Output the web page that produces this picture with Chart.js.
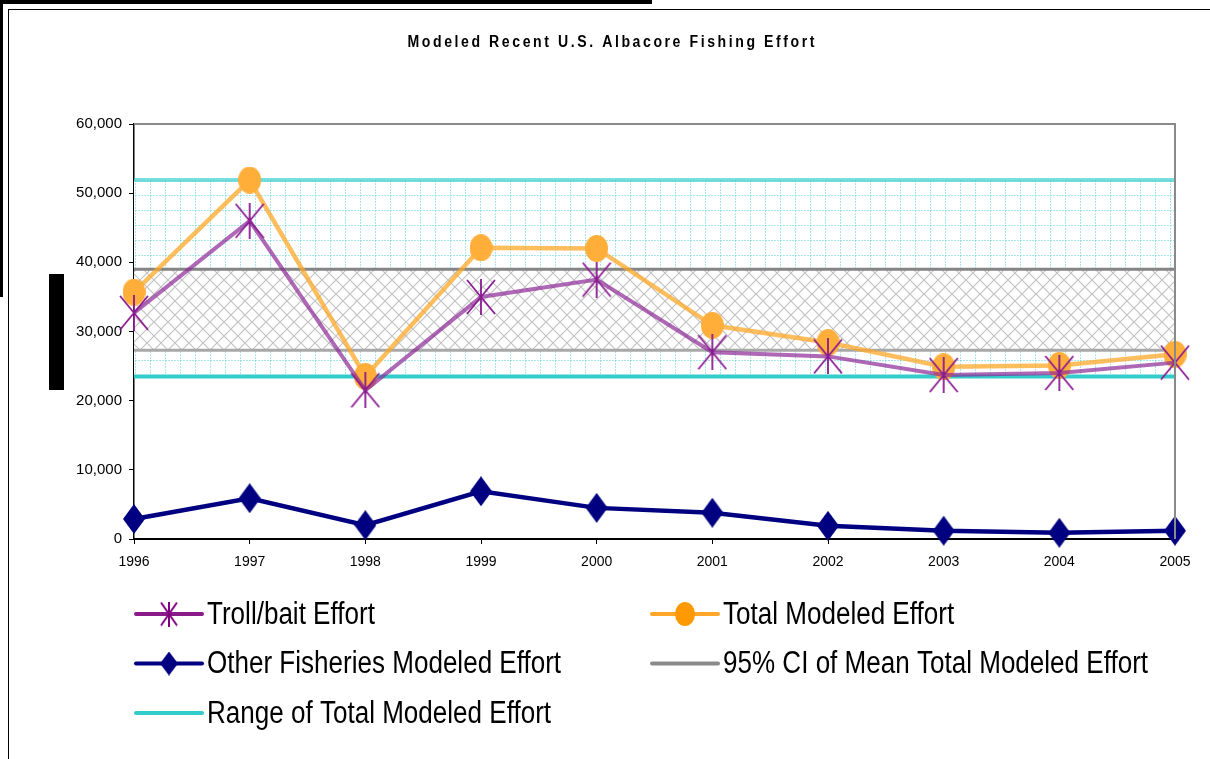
<!DOCTYPE html>
<html>
<head>
<meta charset="utf-8">
<script src="https://cdn.jsdelivr.net/npm/chart.js@4.4.1/dist/chart.umd.min.js"></script>
<style>
  html, body { margin: 0; padding: 0; background: #fff; }
  #wrap { position: relative; width: 1210px; height: 759px; overflow: hidden; background: #fff; }
  #c { position: absolute; left: 0; top: 0; }
  .deco { position: absolute; background: #000; }
</style>
</head>
<body>
<div id="wrap">
  <canvas id="c" width="1210" height="759"></canvas>
  <div class="deco" style="left:0;top:0;width:652px;height:4px;"></div>
  <div class="deco" style="left:0;top:0;width:3px;height:297px;"></div>
  <div class="deco" style="left:8px;top:9px;width:1202px;height:1px;"></div>
  <div class="deco" style="left:8px;top:9px;width:1px;height:750px;"></div>
  <div class="deco" style="left:49px;top:274px;width:15px;height:116px;"></div>
</div>
<script>
// ---------- DATA ----------
const chartTitle = 'Modeled Recent U.S. Albacore Fishing Effort';
const years = ['1996', '1997', '1998', '1999', '2000', '2001', '2002', '2003', '2004', '2005'];
const trollEffort = [32700, 46000, 21500, 35000, 37500, 27000, 26400, 23700, 24000, 25500];
const totalEffort = [35700, 51900, 23500, 42100, 42000, 30900, 28400, 24900, 25100, 26700];
const otherEffort = [2900, 5900, 2000, 6900, 4500, 3800, 1900, 1200, 900, 1200];
const ciBounds = [27300, 39000];     // 95% CI of mean total modeled effort (lower, upper)
const rangeBounds = [23500, 51900];  // range of total modeled effort (min, max)
const yTicks = [0, 10000, 20000, 30000, 40000, 50000, 60000];
const seriesNames = ['Troll/bait Effort', 'Total Modeled Effort', 'Other Fisheries Modeled Effort',
                     '95% CI of Mean Total Modeled Effort', 'Range of Total Modeled Effort'];

// ---------- STYLE HELPERS ----------
const SANS = "'Liberation Sans', Arial, sans-serif";

function mk(w, h) { const c = document.createElement('canvas'); c.width = w; c.height = h; return c; }

function gridPattern() {
  const s = 15, c = mk(s, s), g = c.getContext('2d');
  g.fillStyle = '#ffffff'; g.fillRect(0, 0, s, s);
  g.fillStyle = 'rgba(80,210,215,0.5)';
  for (let i = 0; i < s; i += 3) { g.fillRect(i, 0, 2, 1); g.fillRect(0, i, 1, 2); }
  return g.createPattern(c, 'repeat');
}
function hatchPattern() {
  const s = 14, c = mk(s, s), g = c.getContext('2d');
  g.fillStyle = '#ffffff'; g.fillRect(0, 0, s, s);
  g.strokeStyle = 'rgba(175,175,175,0.75)'; g.lineWidth = 1.2;
  g.beginPath();
  g.moveTo(0, 0); g.lineTo(s, s);
  g.moveTo(s, 0); g.lineTo(0, s);
  g.stroke();
  return g.createPattern(c, 'repeat');
}
function starImg(w, h, lw, color) {
  const c = mk(w, h), g = c.getContext('2d');
  g.strokeStyle = color; g.lineWidth = lw;
  g.beginPath();
  g.moveTo(w / 2, 0); g.lineTo(w / 2, h);
  g.moveTo(1, 1); g.lineTo(w - 1, h - 1);
  g.moveTo(w - 1, 1); g.lineTo(1, h - 1);
  g.stroke();
  return c;
}
function ellipseImg(w, h, color) {
  const c = mk(w, h), g = c.getContext('2d');
  g.fillStyle = color;
  g.beginPath(); g.ellipse(w / 2, h / 2, w / 2, h / 2, 0, 0, Math.PI * 2); g.fill();
  return c;
}
function diamondImg(w, h, color) {
  const c = mk(w, h), g = c.getContext('2d');
  g.fillStyle = color;
  g.beginPath(); g.moveTo(w / 2, 0); g.lineTo(w, h / 2); g.lineTo(w / 2, h); g.lineTo(0, h / 2); g.closePath(); g.fill();
  return c;
}

const COL = {
  troll: 'rgba(140,40,150,0.7)', trollMark: '#8A1A92',
  total: 'rgba(255,168,40,0.75)', totalMark: '#FFAE3A',
  other: '#000080',
  ciHigh: '#858585', ciLow: '#A8A8A8',
  rangeLow: '#33CCCC', rangeHigh: 'rgba(51,204,204,0.65)'
};

const marks = {
  troll: starImg(30, 36, 1.8, COL.trollMark),
  total: ellipseImg(23, 27, COL.totalMark),
  other: diamondImg(22, 30, COL.other),
  trollL: starImg(18, 25, 2, '#800080'),
  totalL: ellipseImg(20, 24, '#FF9900'),
  otherL: diamondImg(18, 24, COL.other)
};

const flat = v => years.map(() => v);

// draw horizontally condensed text (mimics a narrow typeface)
function narrowText(ctx, text, x, y, sx) {
  ctx.save();
  ctx.translate(x, y);
  ctx.scale(sx, 1);
  ctx.fillText(text, 0, 0);
  ctx.restore();
}

// ---------- PLUGINS ----------
const titlePlugin = {
  id: 'albTitle',
  afterDraw(chart) {
    const ctx = chart.ctx;
    ctx.save();
    ctx.font = 'bold 16px ' + SANS;
    ctx.fillStyle = '#000';
    ctx.textBaseline = 'middle';
    ctx.textAlign = 'left';
    const sx = 0.88, target = 407, n = chartTitle.length;
    ctx.letterSpacing = '0px';
    const w0 = ctx.measureText(chartTitle).width;
    const sp = Math.max(0, (target / sx - w0) / (n - 1));
    ctx.letterSpacing = sp + 'px';
    narrowText(ctx, chartTitle, 611 - target / 2, 43, sx);
    ctx.restore();
  }
};

const framePlugin = {
  id: 'plotFrame',
  afterDatasetsDraw(chart) {
    const { ctx, chartArea: a } = chart;
    ctx.save();
    ctx.strokeStyle = '#8a8a8a'; ctx.lineWidth = 2;
    ctx.beginPath();
    ctx.moveTo(a.left, a.top); ctx.lineTo(a.right, a.top); ctx.lineTo(a.right, a.bottom);
    ctx.stroke();
    ctx.restore();
  }
};

const legendPlugin = {
  id: 'albLegend',
  afterDraw(chart) {
    const { ctx, chartArea: a } = chart;
    const items = [
      { name: seriesNames[0], color: '#8B1A8B', mark: marks.trollL, col: 0, row: 0 },
      { name: seriesNames[1], color: '#FFA62B', mark: marks.totalL, col: 1, row: 0 },
      { name: seriesNames[2], color: COL.other, mark: marks.otherL, col: 0, row: 1 },
      { name: seriesNames[3], color: '#8a8a8a', mark: null, col: 1, row: 1 },
      { name: seriesNames[4], color: COL.rangeLow, mark: null, col: 0, row: 2 }
    ];
    ctx.save();
    ctx.font = '31px ' + SANS;
    ctx.textBaseline = 'middle';
    ctx.textAlign = 'left';
    ctx.fillStyle = '#000';
    items.forEach(it => {
      const x = a.left + it.col * 516;
      const y = a.bottom + 75 + it.row * 49.5;
      ctx.strokeStyle = it.color; ctx.lineWidth = 4; ctx.lineCap = 'round';
      ctx.beginPath(); ctx.moveTo(x + 2, y); ctx.lineTo(x + 68, y); ctx.stroke();
      if (it.mark) ctx.drawImage(it.mark, x + 35 - it.mark.width / 2, y - it.mark.height / 2);
      narrowText(ctx, it.name, x + 73, y + 1, 0.84);
    });
    ctx.restore();
  }
};

// ---------- CHART ----------
const ctx = document.getElementById('c').getContext('2d');
new Chart(ctx, {
  type: 'line',
  data: {
    labels: years,
    datasets: [
      { label: seriesNames[4] + ' (min)', data: flat(rangeBounds[0]), borderColor: COL.rangeLow, borderWidth: 4,
        pointRadius: 0, fill: false, order: 4 },
      { label: seriesNames[4] + ' (max)', data: flat(rangeBounds[1]), borderColor: COL.rangeHigh, borderWidth: 4,
        pointRadius: 0, fill: '-1', backgroundColor: gridPattern(), order: 4 },
      { label: seriesNames[3] + ' (lower)', data: flat(ciBounds[0]), borderColor: COL.ciLow, borderWidth: 3,
        pointRadius: 0, fill: false, order: 3 },
      { label: seriesNames[3] + ' (upper)', data: flat(ciBounds[1]), borderColor: COL.ciHigh, borderWidth: 3,
        pointRadius: 0, fill: '-1', backgroundColor: hatchPattern(), order: 3 },
      { label: seriesNames[2], data: otherEffort, borderColor: COL.other, borderWidth: 4.5,
        pointStyle: marks.other, pointRadius: 10, fill: false, order: 2, clip: false },
      { label: seriesNames[1], data: totalEffort, borderColor: COL.total, borderWidth: 4.5,
        pointStyle: marks.total, pointRadius: 10, fill: false, order: 1, clip: false },
      { label: seriesNames[0], data: trollEffort, borderColor: COL.troll, borderWidth: 4,
        pointStyle: marks.troll, pointRadius: 10, fill: false, order: 0, clip: false }
    ]
  },
  options: {
    responsive: false,
    animation: false,
    devicePixelRatio: 1,
    layout: { padding: { left: 0, right: 35, top: 124, bottom: 180 } },
    elements: { line: { tension: 0 } },
    plugins: {
      legend: { display: false },
      title: { display: false },
      tooltip: { enabled: false },
      filler: { propagate: false }
    },
    scales: {
      x: {
        offset: false,
        grid: { display: true, drawOnChartArea: false, drawTicks: true, tickLength: 5, color: '#000' },
        border: { display: true, color: '#000', width: 2 },
        ticks: { color: '#000', font: { family: SANS, size: 14 }, padding: 10, maxRotation: 0, autoSkip: false },
        afterFit(s) { s.height = 40; }
      },
      y: {
        min: yTicks[0], max: yTicks[yTicks.length - 1],
        afterBuildTicks(s) { s.ticks = yTicks.map(v => ({ value: v })); },
        grid: { display: true, drawOnChartArea: false, drawTicks: true, tickLength: 5, color: '#000' },
        border: { display: true, color: '#000', width: 1.5 },
        ticks: { color: '#000', font: { family: SANS, size: 15 }, padding: 7,
                 callback: v => Number(v).toLocaleString('en-US') },
        afterFit(s) { s.width = 134; }
      }
    }
  },
  plugins: [framePlugin, titlePlugin, legendPlugin]
});
</script>
</body>
</html>
